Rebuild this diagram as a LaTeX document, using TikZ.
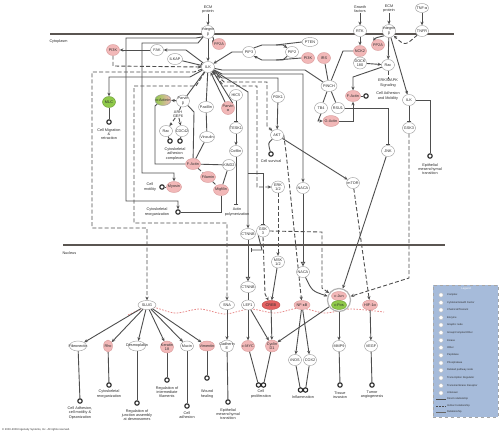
\documentclass[tikz,border=0pt]{standalone}
\usepackage{fontspec}
\setmainfont{Liberation Sans}
\usetikzlibrary{shapes.geometric,arrows.meta,calc}
\pgfdeclarelayer{bg}
\pgfsetlayers{bg,main}
\definecolor{pinkc}{HTML}{F2B8B8}
\definecolor{pinkd}{HTML}{D99A9A}
\definecolor{redc}{HTML}{E46262}
\definecolor{redd}{HTML}{B94A4A}
\definecolor{greenc}{HTML}{8FC94A}
\definecolor{greend}{HTML}{6C9A34}
\definecolor{linec}{HTML}{4E4E4E}
\definecolor{membc}{HTML}{5A5551}
\definecolor{legc}{HTML}{A6BBDA}
\definecolor{textc}{HTML}{2E2E2E}
\definecolor{wavec}{HTML}{E88A8A}
\newcommand{\nd}[4]{\node[#1] (#2) at (#3) {}; \node[lab] (#2-l) at (#2.center) {#4};}
\tikzset{
 gn/.style={ellipse, draw=black!40, fill=white, line width=0.4pt, minimum width=13pt, minimum height=11pt, inner sep=0pt},
 pk/.style={gn, fill=pinkc, draw=pinkd},
 rd/.style={gn, fill=redc, draw=redd},
 grn/.style={gn, fill=greenc, draw=greend},
 fn/.style={circle, draw=black!85, line width=1.1pt, fill=white, minimum size=4.4pt, inner sep=0pt},
 lab/.style={inner sep=0pt, align=center, text=textc, font=\fontsize{3.8}{4.1}\selectfont},
 txt/.style={inner sep=0.3pt, align=center, text=textc, font=\fontsize{3.8}{4.1}\selectfont},
 ln/.style={draw=linec, line width=0.9pt},
 arr/.style={ln, -{Stealth[length=3.6pt,width=3.2pt]}},
 dsh/.style={dash pattern=on 4pt off 2.2pt},
 inh/.style={ln, -{Bar[width=4.5pt]}},
 oarr/.style={ln, -{Triangle[open,length=4.5pt,width=4.5pt]}},
 memb/.style={draw=membc, line width=2.5pt},
 wave/.style={draw=wavec, line width=0.8pt, dash pattern=on 1.6pt off 1.4pt},
 legt/.style={anchor=west, inner sep=0pt, text=textc, font=\fontsize{2.6}{2.8}\selectfont},
}
\begin{document}
\begin{tikzpicture}[x=1pt,y=-1pt]
\useasboundingbox (0,0) rectangle (500,434);
\begin{pgfonlayer}{bg}
\fill[white] (0,0) rectangle (500,434);
\end{pgfonlayer}

% membranes
\draw[memb] (50,34) -- (454,34);
\draw[memb] (63,245) -- (445,245);
\node[txt, anchor=west] (cyto) at (49,42) {Cytoplasm};
\node[txt, anchor=west] (nucl) at (62,253) {Nucleus};

% ---------- top / cytoplasm ----------
\node[txt] (ECM1) at (208,10) {ECM\\protein};
\nd{gn,minimum height=13pt}{ITGB1}{208,32}{Integrin\\β}
\nd{pk}{PPA1}{219,44}{PP2A}
\nd{gn}{ILK}{208,67}{ILK}
\nd{gn}{FAK}{157,50}{FAK}
\nd{pk}{PIK1}{113,50}{PI3K}
\nd{gn,minimum width=15pt}{ILKAP}{175,59}{ILKAP}
\nd{gn}{PIP3}{249,52}{PIP3}
\nd{gn}{PIP2}{292,52}{PIP2}
\nd{gn,minimum width=16pt,minimum height=9pt}{PTEN}{310,42}{PTEN}
\nd{pk}{PIK2}{308,58}{PI3K}
\nd{pk}{IRS}{324,58}{IRS}
\nd{gn,minimum width=16pt}{PINCH}{329,86}{PINCH}
\nd{gn}{TB4}{321,108}{TB4}
\nd{gn}{RSU1}{338,108}{RSU1}
\nd{pk,minimum width=16pt}{GACT}{331,121}{G-Actin}
\node[txt] (GF) at (360,9) {Growth\\factors};
\nd{gn}{RTK}{360,31}{RTK}
\node[txt] (ECM2) at (389,9) {ECM\\protein};
\nd{gn,minimum height=13pt}{ITGB2}{389,31}{Integrin\\β}
\nd{gn,minimum height=9pt}{TNFa}{422,8}{TNF-α}
\nd{gn}{TNFR}{422,31}{TNFR}
\nd{pk}{PPA2}{378,45}{PP2A}
\nd{pk}{NCK2}{360,51}{NCK2}
\nd{gn,minimum height=12pt}{DOCK}{360,63}{DOCK\\180}
\nd{gn}{RAC2}{388,65}{Rac}
\node[txt] (ERKM) at (388,83) {ERK/MAPK\\Signaling};
\nd{pk,minimum width=15pt}{FACT2}{353,96}{F-Actin}
\node[fn] (CAMc) at (366,96) {};
\node[txt] (CAMt) at (388,96) {Cell Adhesion\\and Mobility};
\nd{gn}{ILK2}{409,100}{ILK}
\nd{gn}{GSKb}{409,128}{GSK3}
\node[fn] (EMTc2) at (430,156) {};
\node[txt] (EMTt2) at (430,169) {Epithelial\\mesenchymal\\transition};
\nd{gn}{JNK}{388,151}{JNK}
\nd{gn}{MTOR}{353,183}{mTOR}

% left cytoskeleton
\nd{grn}{MLC}{109,102}{MLC}
\node[fn] (CMRc) at (109,122) {};
\node[txt] (CMRt) at (109,134) {Cell Migration\\\&\\retraction};
\nd{gn,left color=greenc,right color=pinkc,minimum width=16pt}{AACT}{163,100}{α-Actinin}
\nd{gn,minimum height=12pt}{PARVB}{183,101}{Parvin\\β}
\node[txt] (ARHG) at (178,114) {ARH\\GEF6};
\nd{gn}{RAC1}{166,131}{Rac}
\nd{gn}{CDC42}{182,131}{CDC42}
\node[fn] (CYA1) at (170,141) {};
\node[fn] (CYA2) at (180,141) {};
\node[txt] (CYAt) at (175,154) {Cytoskeletal\\adhesion\\complexes};
\nd{gn,minimum width=15pt}{PAX}{206,107}{Paxillin}
\nd{pk,minimum height=13pt}{PARVA}{228,108}{Parvin\\α}
\nd{gn}{HIC5}{236,95}{HIC5}
\nd{gn}{TESK}{236,128}{TESK1}
\nd{gn,minimum width=15pt}{VINC}{207,137}{Vinculin}
\nd{gn}{COF}{236,151}{Cofilin}
\nd{pk,minimum width=15pt}{FACT1}{193,164}{F-Actin}
\nd{gn}{KIND}{229,165}{KIND2}
\nd{pk,minimum width=15pt}{FILA}{208,177}{Filamin}
\nd{pk,minimum width=15pt}{MIGF}{221,190}{Migfilin}
\nd{pk,minimum width=15pt}{MYO}{174,187}{Myosin}
\node[fn] (CMc) at (162,187) {};
\node[txt] (CMt) at (150,187) {Cell\\motility};
\node[fn] (CRc) at (178,212) {};
\node[txt] (CRt) at (157,212) {Cytoskeletal\\reorganization};
\node[txt] (APt) at (237,212) {Actin\\polymerization};
\nd{gn}{PDK1}{278,97}{PDK1}
\nd{gn}{AKT}{277,135}{AKT}
\node[fn] (CSc) at (271,154) {};
\node[txt] (CSt) at (271,161) {Cell survival};
\nd{gn,minimum height=12pt}{ERK}{278,187}{ERK\\1/2}
\nd{gn}{NACA1}{303,188}{NACA}
\nd{gn,minimum width=15pt}{CTN1}{248,234}{CTNNB}
\nd{gn,minimum height=12pt}{GSK3}{263,231}{GSK\\3}

% ---------- nucleus ----------
\nd{gn,minimum height=12pt}{MSK}{278,262}{MSK\\1/2}
\nd{gn}{NACA2}{303,272}{NACA}
\nd{gn,minimum width=15pt}{CTN2}{248,287}{CTNNB}
\nd{gn,minimum width=18pt,minimum height=9pt}{SLUG}{147,305}{SLUG}
\nd{gn,minimum width=15pt,minimum height=9pt}{SNA}{227,305}{SNA}
\nd{gn,minimum height=10pt}{LEF1}{248,305}{LEF1}
\nd{rd,minimum width=18pt,minimum height=9pt}{CREB}{271,305}{CREB}
\nd{pk,minimum width=16pt,minimum height=9pt}{NFKB}{302,305}{NF-κB}
\node[circle, draw=black!30, fill=white, line width=1.2pt, minimum size=23pt, inner sep=0pt] (AP1) at (339,300) {};
\nd{pk,minimum width=15pt,minimum height=9pt}{JUN}{339,296}{c-Jun}
\nd{grn,minimum width=15pt,minimum height=9pt}{FOS}{339,305}{c-Fos}
\nd{pk,minimum width=15pt,minimum height=10pt}{HIF}{370,305}{HIF-1α}

\nd{gn,minimum width=17pt,minimum height=10pt}{FN}{78,346}{Fibronectin}
\nd{pk,minimum width=9pt,minimum height=12pt}{RHO}{108,346}{Rho}
\nd{gn,minimum width=17pt,minimum height=10pt}{DSP}{137,346}{Desmoplakin}
\nd{pk,minimum height=12pt}{KRT}{167,347}{Keratin\\18}
\nd{gn,minimum height=10pt}{MUC}{187,346}{Mucin}
\nd{pk,minimum width=15pt,minimum height=10pt}{VIM}{207,346}{Vimentin}
\nd{gn,minimum height=12pt}{CDH}{227,346}{Cadherin\\E}
\nd{pk,minimum height=11pt}{MYC}{248,346}{c-MYC}
\nd{pk,minimum height=12pt}{CCND}{272,346}{Cyclin\\D1}
\nd{gn}{INOS}{295,360}{iNOS}
\nd{gn}{COX}{310,360}{COX2}
\nd{gn}{MMP}{339,346}{MMP9}
\nd{gn}{VEGF}{371,346}{VEGF}

\node[fn] (FNc) at (80,401) {};
\node[txt] (FNt) at (80,413) {Cell Adhesion,\\cell motility \&\\Opsonization};
\node[fn] (RHOc) at (109,385) {};
\node[txt] (RHOt) at (109,394) {Cytoskeletal\\reorganization};
\node[fn] (DSPc) at (137,403) {};
\node[txt] (DSPt) at (137,415) {Regulation of\\junction assembly\\at desmosomes};
\node[fn] (KRTc) at (167,380) {};
\node[txt] (KRTt) at (167,392) {Regulation of\\intermediate\\filaments};
\node[fn] (MUCc) at (187,406) {};
\node[txt] (MUCt) at (187,415) {Cell\\adhesion};
\node[fn] (VIMc) at (207,378) {};
\node[txt] (VIMt) at (207,394) {Wound\\healing};
\node[fn] (CDHc) at (228,402) {};
\node[txt] (CDHt) at (228,414) {Epithelial\\mesenchymal\\transition};
\node[fn] (PROc1) at (258.5,385) {};
\node[fn] (PROc2) at (263.5,385) {};
\node[txt] (PROt) at (261,394) {Cell\\proliferation};
\node[fn] (INFc1) at (300.5,390) {};
\node[fn] (INFc2) at (305.5,390) {};
\node[txt] (INFt) at (303,397) {Inflammation};
\node[fn] (MMPc) at (340,385) {};
\node[txt] (MMPt) at (340,395) {Tissue\\invasion};
\node[fn] (VEGc) at (372,385) {};
\node[txt] (VEGt) at (372,395) {Tumor\\angiogenesis};

\coordinate (j1) at (248,173);
\coordinate (j2) at (251,250);
\coordinate (j3) at (236,205);

% ---------- connectors ----------
\begin{pgfonlayer}{bg}
\draw[wave] plot[smooth] coordinates {(128,315) (150,307) (175,313) (200,309) (225,314) (250,309) (275,313) (300,308) (325,313) (350,309) (384,312)};

\draw[arr] (ECM1) -- (ITGB1);
\draw[arr] (ITGB1) -- (ILK);
\draw[arr] (ITGB1.south east) .. controls (214,40) .. (PPA1.west);
\draw[arr] (PIP3.west) -- (232,52) -- (ILK);
\draw[arr] (PIP3.north east) -- (262,45) -- (283,45) -- (PIP2.north west);
\draw[ln] (PTEN.west) -- (276,45);
\draw[arr] (PIP2.south west) -- (283,60) -- (262,60) -- (PIP3.south east);
\draw[ln] (PIK2.west) -- (276,60);
\draw[ln] (IRS) -- (PINCH);
\draw[ln] (ILK) -- (222,70) -- (305,70) -- (PINCH);
\draw[arr] (ILK) -- (222,74) -- (303,74) -- (NACA1);
\draw[ln] (ILK) -- (222,78) -- (278,78) -- (PDK1);
\draw[arr] (PDK1) -- (AKT);
\draw[arr,dsh] (ILK) -- (224,82) -- (267,82) -- (267,126) -- (AKT);
\draw[arr,dsh] (ILK) -- (224,86) -- (257,86) -- (257,187) -- (ERK);
\draw[arr] (ILK) -- (248,92) -- (CTN1);
\draw[inh] (j1) -- (263,173) -- (GSK3);
\draw[inh] (GSK3.south west) -- (262,250) -- (j2);
\draw[oarr] (CTN1) -- (CTN2);
\draw[ln] (CTN2) -- (LEF1);
\draw[arr,dsh] (GSK3.east) -- (322,232) -- (322,288) -- (AP1);
\draw[arr,dsh] (GSK3.south) -- (265,294) -- (CREB);
\draw[arr,dsh] (ERK) -- (MSK);
\draw[arr] (MSK) -- (CREB);
\draw[oarr] (NACA1) -- (NACA2);
\draw[arr] (NACA2) .. controls (312,291) .. (AP1);
\draw[arr] (AKT) -- (MTOR);
\draw[ln] (AKT) .. controls (268,143) .. (CSc);
\draw[arr,dsh] (AKT.east) -- (286,152) -- (NFKB);
\draw[arr] (JNK) -- (AP1);
\draw[arr,dsh] (MTOR) -- (HIF);
\draw[arr,dsh] (GSKb) -- (409,278) -- (AP1);
\draw[inh] (RSU1.east) -- (388,108) -- (JNK);
\draw[inh] (ILK2) -- (GSKb);
\draw[ln] (ILK2) -- (430,100) -- (EMTc2);
\draw[arr] (ITGB2) -- (ILK2);
\draw[arr] (ITGB2) -- (RAC2);
\draw[arr] (ITGB2.south west) .. controls (375,38) .. (PPA2.north west);
\draw[arr,dsh] (TNFR.south west) .. controls (405,46) .. (ITGB2.south east);
\draw[arr] (TNFa) -- (TNFR);
\draw[arr] (GF) -- (RTK);
\draw[arr] (ECM2) -- (ITGB2);
\draw[arr] (RTK) -- (NCK2);
\draw[ln] (NCK2) -- (DOCK);
\draw[arr] (DOCK) -- (RAC2);
\draw[ln,dsh] (RAC2) -- (ERKM);
\draw[arr] (RAC2) -- (353,77) -- (FACT2);
\draw[ln] (FACT2) -- (CAMc);
\draw[ln] (PINCH) -- (343,51) -- (NCK2);
\draw[ln] (PINCH) -- (TB4);
\draw[ln] (PINCH) -- (RSU1);
\draw[arr] (TB4.south) -- (318,121) -- (GACT);
\draw[arr] (GACT.east) -- (353,121) -- (FACT2);

\draw[arr] (ITGB1.south west) -- (196,38) -- (126,38) -- (126,201) -- (178,201) -- (CRc);
\draw[arr] (ITGB1.south west) -- (198,43) -- (142,43) -- (142,173) -- (174,173) -- (MYO);
\draw[arr] (ILK.north west) -- (186,50) -- (FAK);
\draw[arr] (FAK) -- (PIK1);
\draw[arr,dsh] (PIK1) -- (113,66) -- (ILK.west);
\draw[inh] (ILKAP) -- (ILK);
\draw[arr] (ILK) -- (190,77) -- (109,77) -- (MLC);
\draw[ln] (MLC) -- (CMRc);
\draw[arr,dsh] (ILK) -- (194,72) -- (92,72) -- (92,228) -- (147,228) -- (SLUG);
\draw[arr,dsh] (ILK) -- (196,86) -- (134,86) -- (134,223) -- (227,223) -- (SNA);
\draw[ln] (ILK) -- (PARVB);
\draw[arr] (PARVB) -- (AACT);
\draw[ln] (PARVB) -- (ARHG);
\draw[arr,dsh] (ARHG) -- (RAC1);
\draw[arr,dsh] (ARHG) -- (CDC42);
\draw[ln] (RAC1) -- (CYA1);
\draw[ln] (CDC42) -- (CYA2);
\draw[ln] (ILK) -- (PAX);
\draw[ln] (PAX) -- (VINC);
\draw[arr] (PARVA) -- (ILK);
\draw[ln] (ILK.south east) -- (PARVA.north east);
\draw[inh] (HIC5) -- (TESK);
\draw[arr] (TESK) -- (COF);
\draw[inh] (COF) -- (j3);
\draw[ln] (AACT.south west) -- (155,106) -- (155,164) -- (FACT1);
\draw[ln] (PARVB.south east) -- (194,112) -- (FACT1);
\draw[ln] (VINC) -- (FACT1);
\draw[ln] (FACT1) -- (KIND);
\draw[ln,dsh] (FACT1) -- (FILA);
\draw[ln,dsh] (FILA) -- (MIGF);
\draw[ln] (MIGF) -- (KIND);
\draw[ln] (MYO) -- (CMc);
\draw[ln] (CRc) -| (MIGF);

\foreach \t in {FN,RHO,DSP,KRT,MUC,VIM} \draw[arr] (SLUG) -- (\t);
\draw[arr] (SNA) -- (CDH);
\draw[arr] (LEF1) -- (MYC);
\draw[arr] (LEF1) -- (CCND);
\draw[arr] (CREB) -- (CCND);
\draw[arr] (AP1) -- (CCND);
\draw[arr] (NFKB) -- (INOS);
\draw[arr] (NFKB) -- (COX);
\draw[arr] (AP1) -- (MMP);
\draw[arr] (HIF) -- (VEGF);

\draw[ln] (FN) -- (FNc);
\draw[ln] (RHO) -- (RHOc);
\draw[ln] (DSP) -- (DSPc);
\draw[ln] (KRT) -- (KRTc);
\draw[ln] (MUC) -- (MUCc);
\draw[ln] (VIM) -- (VIMc);
\draw[ln] (CDH) -- (CDHc);
\draw[ln] (MYC) -- (PROc1);
\draw[ln] (CCND) -- (PROc2);
\draw[ln] (INOS) -- (INFc1);
\draw[ln] (COX) -- (INFc2);
\draw[ln] (MMP) -- (MMPc);
\draw[ln] (VEGF) -- (VEGc);
\end{pgfonlayer}

% ---------- legend ----------
\node[draw=black!35, dashed, fill=legc, minimum width=65pt, minimum height=132pt, inner sep=0pt, anchor=north west] (LEG) at (433,285) {};
\node[inner sep=0pt, text=white, font=\fontsize{2.8}{3}\selectfont] (LEGt) at (466,289) {Legend};
\foreach \yy/\tt [count=\i] in {295/Complex, 302.7/{Cytokine/Growth Factor}, 310/{Chemical/Toxicant}, 317.7/Enzyme, 325/Graphic node, 332.7/{Group/Complex/Other}, 340.3/Kinase, 347.7/Other, 355.3/Peptidase, 363/Phosphatase, 370.3/Related pathway node, 378/Transcription Regulator, 385.7/Transmembrane Receptor, 393/Unknown} {
  \node[circle, draw=black!25, fill=white, minimum size=4.2pt, inner sep=0pt] (legi\i) at (441,\yy) {};
  \node[legt] (legl\i) at (447,\yy) {\tt};
}
\coordinate (lga) at (436,399.3); \coordinate (lgb) at (446,399.3);
\coordinate (lgc) at (436,406); \coordinate (lgd) at (446,406);
\coordinate (lge) at (436,412); \coordinate (lgf) at (446,412);
\draw[draw=black!70, line width=0.7pt] (lga) -- (lgb);
\draw[draw=black!70, line width=0.7pt, dash pattern=on 2pt off 1pt] (lgc) -- (lgd);
\draw[draw=black!60, line width=0.35pt] (lge) -- (lgf);
\node[legt] (lgt1) at (447,399.3) {Direct relationship};
\node[legt] (lgt2) at (447,406) {Indirect relationship};
\node[legt] (lgt3) at (447,412) {Relationship};

\node[anchor=west, inner sep=0pt, text=textc, font=\fontsize{2.7}{3}\selectfont] (copy) at (2,430) {© 2000-2009 Ingenuity Systems, Inc. All rights reserved.};
\end{tikzpicture}
\end{document}
